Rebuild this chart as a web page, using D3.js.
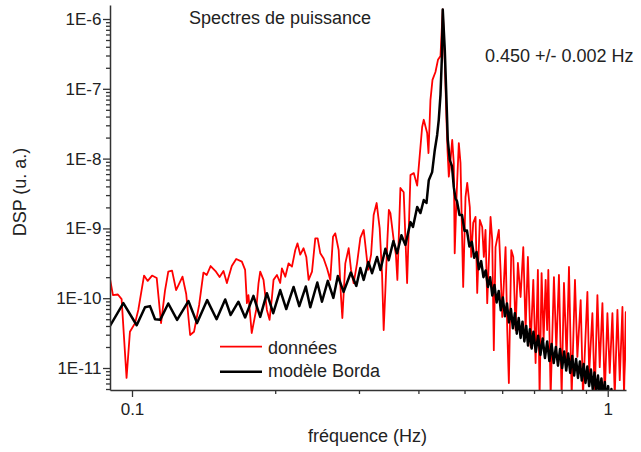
<!DOCTYPE html>
<html><head><meta charset="utf-8">
<script src="https://cdn.jsdelivr.net/npm/d3@7"></script>
<style>
body{margin:0;background:#fff}
svg{display:block}
</style></head>
<body><svg id="chart" width="641" height="452"></svg>
<script>
// ---- data (frequency in Hz, DSP in arbitrary units) ----
const seriesNames = ["données", "modèle Borda"];
const titleText = "Spectres de puissance";
const peakText = "0.450 +/- 0.002 Hz";
const xTitle = "fréquence (Hz)";
const yTitle = "DSP (u. a.)";

const xMajorTicks = [0.1, 1];
const xMajorLabels = ["0.1", "1"];
const xMinorTicks = [0.2, 0.3, 0.4, 0.5, 0.6, 0.7, 0.8, 0.9];
const yMajorTicks = [1e-11, 1e-10, 1e-9, 1e-8, 1e-7, 1e-6];
const yMajorLabels = ["1E-11", "1E-10", "1E-9", "1E-8", "1E-7", "1E-6"];

const donnees = [
[0.0899,1.89e-10],[0.0912,1.11e-10],[0.0934,1.13e-10],[0.0951,9.7e-11],[0.0974,7.2e-12],[0.0990,3.3e-11],
[0.1015,4.4e-11],[0.1031,6.8e-11],[0.1060,2.11e-10],[0.1079,1.77e-10],[0.1102,2.11e-10],[0.1127,1.95e-10],
[0.1151,4.4e-11],[0.1173,1.27e-10],[0.1192,2.4e-10],[0.1214,2.48e-10],[0.1238,1.31e-10],[0.1277,2.04e-10],
[0.1300,1.15e-10],[0.1325,2.97e-11],[0.1350,3.3e-11],[0.1384,8.0e-11],[0.1413,2.33e-10],[0.1436,2.15e-10],
[0.1463,2.89e-10],[0.1498,2.45e-10],[0.1528,2.01e-10],[0.1557,2.45e-10],[0.1583,1.65e-10],[0.1621,2.89e-10],
[0.1656,3.65e-10],[0.1702,3.34e-10],[0.1729,2.54e-10],[0.1744,8.5e-11],[0.1757,1.11e-10],[0.1785,3.17e-11],
[0.1824,6.8e-11],[0.1845,1.65e-10],[0.1860,2.4e-10],[0.1890,1.83e-10],[0.1921,6.8e-11],[0.1946,4.9e-11],
[0.1969,1.04e-10],[0.1984,1.83e-10],[0.2017,2.15e-10],[0.2049,1.65e-10],[0.2066,2.68e-10],[0.2100,2.03e-10],
[0.2134,3.16e-10],[0.2169,2.83e-10],[0.2204,4.9e-10],[0.2228,6.1e-10],[0.2258,4.2e-10],[0.2294,5.2e-10],
[0.2325,3.9e-10],[0.2351,1.83e-10],[0.2390,2.4e-10],[0.2428,7.2e-10],[0.2456,7.2e-10],[0.2488,4.4e-10],
[0.2528,3.7e-10],[0.2570,2.68e-10],[0.2611,1.83e-10],[0.2646,7.6e-10],[0.2675,8.5e-10],[0.2719,4.9e-10],
[0.2750,1.05e-10],[0.2768,5.2e-11],[0.2808,3.16e-10],[0.2854,5.2e-10],[0.2887,2.54e-10],[0.2924,1.64e-10],
[0.2972,3.16e-10],[0.3020,7.3e-10],[0.3069,9.5e-10],[0.3094,5.8e-10],[0.3135,2.54e-10],[0.3181,4.2e-10],
[0.3221,1.56e-9],[0.3268,2.31e-9],[0.3316,1.01e-9],[0.3355,2.15e-10],[0.3381,3.5e-11],[0.3409,1.31e-10],
[0.3442,6.8e-10],[0.3467,1.84e-9],[0.3493,1.66e-9],[0.3549,6.8e-10],[0.3587,4.2e-10],[0.3613,1.83e-10],
[0.3666,3.8e-9],[0.3725,3.3e-9],[0.3787,1.65e-10],[0.3849,5.8e-9],[0.3911,6.2e-9],[0.3976,4.1e-9],
[0.4073,2.84e-8],[0.4105,3.6e-8],[0.4173,2.33e-8],[0.4200,1.2e-8],[0.4240,6.9e-8],[0.4282,1.34e-7],
[0.4344,1.74e-7],[0.4397,2.6e-7],[0.4451,2.95e-7],[0.4500,1.37e-6],[0.4549,2.05e-7],[0.4582,3.6e-8],
[0.4605,1.33e-8],[0.4634,5.5e-9],[0.4672,9.5e-9],[0.4711,1.85e-8],[0.4747,8.6e-9],[0.4768,4.4e-10],
[0.4810,2.8e-9],[0.4864,1.67e-8],[0.4904,8.6e-9],[0.4968,1.45e-10],[0.5024,2.8e-9],[0.5066,4.5e-9],
[0.5130,2.0e-9],[0.5165,3.9e-10],[0.5215,1.2e-9],[0.5274,1.46e-9],[0.5317,1.19e-10],[0.5385,1.32e-9],
[0.5447,1.05e-9],[0.5490,3.9e-10],[0.5535,9.5e-10],[0.5581,8.5e-11],[0.5671,1.46e-9],[0.5718,6.8e-10],
[0.5762,1.8e-11],[0.5810,5.4e-10],[0.5904,9.5e-10],[0.5953,2.54e-10],[0.6002,5.4e-11],[0.6099,5.4e-10],
[0.6149,3.5e-11],[0.6197,6.1e-12],[0.6270,4.9e-10],[0.6331,3.9e-10],[0.6402,3.5e-11],[0.6474,3.2e-10],
[0.6559,1.04e-10],[0.6645,5.4e-10],[0.6720,3.5e-11],[0.6795,3.9e-10],[0.6884,2.0e-11],[0.6975,1.83e-10],
[0.7053,1.18e-11],[0.7132,2.54e-10],[0.7191,4e-12],[0.7261,2.29e-10],[0.7332,2.5e-11],[0.7404,1.83e-10],
[0.7458,3.5e-11],[0.7501,2.54e-10],[0.7586,4e-12],[0.7708,2.01e-10],[0.7798,1.8e-11],[0.7897,2.15e-10],
[0.8001,4e-12],[0.8091,1.65e-10],[0.8198,1.3e-11],[0.8290,2.8e-10],[0.8399,4e-12],[0.8534,1.83e-10],
[0.8634,1.44e-11],[0.8773,9.4e-11],[0.8872,4e-12],[0.9063,1.23e-10],[0.9142,8.5e-12],[0.9285,6.1e-11],
[0.9389,4e-12],[0.9513,1.11e-10],[0.9620,1.03e-11],[0.9747,8.5e-11],[0.9856,4e-12],[0.9985,6.1e-11],
[1.0097,8.5e-12],[1.0230,6.1e-11],[1.0345,4e-12],[1.0481,6.8e-11],[1.0599,6.7e-12],[1.0738,7.5e-11],
[1.0822,4e-12],[1.0912,6.3e-11],[1.0991,4e-12]
];

const modeleBorda = [
[0.0899,4.0e-11],[0.0959,8.5e-11],[0.1023,4.1e-11],[0.1065,7.4e-11],[0.1091,7.7e-11],[0.1118,5.0e-11],
[0.1146,4.9e-11],[0.1192,8.4e-11],[0.1244,4.9e-11],[0.1314,9.1e-11],[0.1370,4.4e-11],[0.1439,9.4e-11],
[0.1506,5.0e-11],[0.1570,9.6e-11],[0.1612,5.75e-11],[0.1674,8.9e-11],[0.1729,5.3e-11],[0.1800,1.08e-10],
[0.1860,5.4e-11],[0.1921,1.18e-10],[0.1981,6.1e-11],[0.2049,1.31e-10],[0.2110,7.0e-11],[0.2186,1.45e-10],
[0.2247,7.7e-11],[0.2319,1.47e-10],[0.2370,7.4e-11],[0.2452,1.68e-10],[0.2508,8.9e-11],[0.2580,1.77e-10],
[0.2650,1.01e-10],[0.2708,2.08e-10],[0.2785,1.23e-10],[0.2884,2.33e-10],[0.2962,1.5e-10],[0.3020,2.7e-10],
[0.3069,1.83e-10],[0.3139,3.3e-10],[0.3196,2.28e-10],[0.3275,3.9e-10],[0.3328,2.54e-10],[0.3409,5.1e-10],
[0.3464,3.5e-10],[0.3544,6.6e-10],[0.3608,4.4e-10],[0.3684,8.0e-10],[0.3756,5.8e-10],[0.3849,1.23e-9],
[0.3896,1.05e-9],[0.3976,2.03e-9],[0.4040,1.66e-9],[0.4105,2.55e-9],[0.4159,2.31e-9],[0.4206,4.9e-9],
[0.4275,6.4e-9],[0.4330,1.33e-8],[0.4380,2.18e-8],[0.4414,3.6e-8],[0.4451,8.2e-8],[0.4479,2.6e-7],
[0.4500,1.37e-6],[0.4545,3.6e-7],[0.4582,6.9e-8],[0.4611,1.85e-8],[0.4656,9.5e-9],[0.4706,7.8e-9],
[0.4747,3.9e-9],[0.4786,2.7e-9],
[0.482,2.47e-9],[0.488,1.56e-9],[0.494,1.56e-9],[0.500,9.2e-10],[0.506,9.3e-10],[0.512,5.5e-10],
[0.518,6.4e-10],[0.524,3.8e-10],[0.530,4.6e-10],[0.536,2.6e-10],[0.542,3.4e-10],[0.548,2.0e-10],
[0.554,2.5e-10],[0.560,1.45e-10],[0.566,2.0e-10],[0.572,1.09e-10],[0.578,1.55e-10],[0.584,8.7e-11],
[0.590,1.27e-10],[0.596,6.7e-11],[0.602,1.02e-10],[0.608,5.5e-11],[0.614,8.4e-11],[0.620,4.5e-11],
[0.626,7.0e-11],[0.632,3.7e-11],[0.638,6.1e-11],[0.644,3.1e-11],[0.650,5.2e-11],[0.656,2.7e-11],
[0.662,4.6e-11],[0.668,2.4e-11],[0.674,4.0e-11],[0.680,2.1e-11],[0.686,3.6e-11],[0.692,1.9e-11],
[0.698,3.3e-11],[0.706,1.7e-11],[0.714,2.9e-11],[0.722,1.54e-11],[0.730,2.65e-11],[0.738,1.39e-11],
[0.746,2.4e-11],[0.754,1.26e-11],[0.762,2.2e-11],[0.770,1.18e-11],[0.778,2.0e-11],[0.786,1.08e-11],
[0.794,1.87e-11],[0.802,1.0e-11],[0.810,1.72e-11],[0.818,9.2e-12],[0.826,1.61e-11],[0.834,8.5e-12],
[0.842,1.49e-11],[0.850,7.8e-12],[0.858,1.35e-11],[0.866,7.2e-12],[0.874,1.24e-11],[0.882,6.6e-12],
[0.890,1.14e-11],[0.898,6.1e-12],[0.906,1.05e-11],[0.914,5.5e-12],[0.922,9.5e-12],[0.930,5.0e-12],
[0.938,8.6e-12],[0.946,4.5e-12],[0.954,7.8e-12],[0.962,4.1e-12],[0.970,7.1e-12],[0.978,3.7e-12],
[0.986,6.3e-12],[0.994,3.3e-12],[1.002,5.5e-12],[1.010,2.9e-12],[1.018,5.0e-12],[1.026,2.5e-12]
];

const xDomain = [0.0899, 1.0925];
const yDomain = [4.84e-12, 1.587e-6];

// ---- drawing ----
const FONT = "'Liberation Sans', Arial, Helvetica, sans-serif";
const TXT = "#222";
const svg = d3.select("#chart");
const plot = {left:110, right:626, top:5, bottom:390};

const x = d3.scaleLog().domain(xDomain).range([plot.left, plot.right]);
const y = d3.scaleLog().domain(yDomain).range([plot.bottom, plot.top]);

svg.append("defs").append("clipPath").attr("id","clip")
  .append("rect").attr("x",plot.left).attr("y",plot.top)
  .attr("width",plot.right-plot.left).attr("height",plot.bottom-plot.top);

const line = d3.line().x(d=>x(d[0])).y(d=>y(d[1]));

const lines = svg.append("g").attr("clip-path","url(#clip)");
lines.append("path").datum(donnees).attr("d",line)
  .attr("fill","none").attr("stroke","#ff0000").attr("stroke-width",1.8).attr("stroke-linejoin","round");
lines.append("path").datum(modeleBorda).attr("d",line)
  .attr("fill","none").attr("stroke","#000").attr("stroke-width",2.5).attr("stroke-linejoin","round");

// minor ticks
const yMinor = [];
for (let e = -12; e <= -6; e++) for (let m = 2; m <= 9; m++) {
  const v = m * Math.pow(10, e);
  if (v >= yDomain[0] && v <= yDomain[1]) yMinor.push(v);
}
function styleAxis(g){
  g.attr("font-family",FONT).attr("font-size",17);
  g.selectAll("path.domain").attr("stroke","#333").attr("stroke-width",1.5);
  g.selectAll("line").attr("stroke","#333").attr("stroke-width",1.3);
  g.selectAll("text").attr("fill",TXT);
}
svg.append("g").attr("transform",`translate(${plot.left},0)`)
  .call(d3.axisLeft(y).tickValues(yMinor).tickSize(4).tickFormat("").tickSizeOuter(0))
  .call(g=>g.select(".domain").remove()).call(styleAxis);
svg.append("g").attr("transform",`translate(0,${plot.bottom})`)
  .call(d3.axisBottom(x).tickValues(xMinorTicks).tickSize(4).tickFormat("").tickSizeOuter(0))
  .call(g=>g.select(".domain").remove()).call(styleAxis);

svg.append("g").attr("transform",`translate(${plot.left},0)`)
  .call(d3.axisLeft(y).tickValues(yMajorTicks).tickSize(7).tickSizeOuter(0).tickPadding(1.5)
    .tickFormat((d,i)=>yMajorLabels[i])).call(styleAxis);
svg.append("g").attr("transform",`translate(0,${plot.bottom})`)
  .call(d3.axisBottom(x).tickValues(xMajorTicks).tickSize(7).tickSizeOuter(0).tickPadding(6)
    .tickFormat((d,i)=>xMajorLabels[i])).call(styleAxis);

// titles
svg.append("text").attr("x",189).attr("y",24).attr("font-family",FONT).attr("font-size",18)
  .attr("fill",TXT).text(titleText);
svg.append("text").attr("x",485).attr("y",62).attr("font-family",FONT).attr("font-size",18)
  .attr("fill",TXT).text(peakText);
svg.append("text").attr("x",367.5).attr("y",442).attr("text-anchor","middle").attr("font-family",FONT)
  .attr("font-size",18).attr("fill",TXT).text(xTitle);
svg.append("text").attr("transform","translate(26,192) rotate(-90)").attr("text-anchor","middle")
  .attr("font-family",FONT).attr("font-size",18).attr("fill",TXT).text(yTitle);

// legend
const legend = [
  {name: seriesNames[0], color:"#ff0000", w:1.8, ly:346.7, ty:354},
  {name: seriesNames[1], color:"#000", w:2.5, ly:371.7, ty:377}
];
legend.forEach(l=>{
  svg.append("line").attr("x1",220).attr("x2",262).attr("y1",l.ly).attr("y2",l.ly)
    .attr("stroke",l.color).attr("stroke-width",l.w);
  svg.append("text").attr("x",268).attr("y",l.ty).attr("font-family",FONT).attr("font-size",18)
    .attr("fill",TXT).text(l.name);
});
</script>
</body></html>
